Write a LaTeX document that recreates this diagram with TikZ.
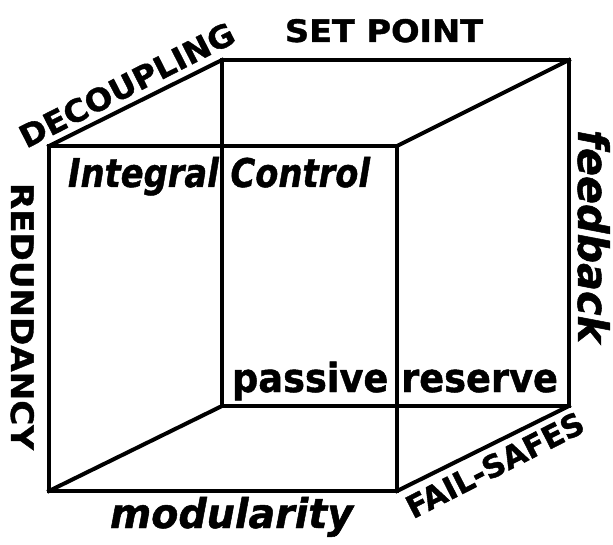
\documentclass[tikz,border=0pt]{standalone}
\usepackage{fontspec}
\setmainfont{DejaVu Sans}[
  BoldFont={DejaVu Sans Bold},
  BoldFeatures={FakeBold=1.2},
  BoldItalicFont={DejaVu Sans Bold Oblique},
  BoldItalicFeatures={FakeBold=1.2}]
\usepackage{graphicx}
\tikzset{
  edge/.style={line width=4pt, line join=miter, line cap=rect},
  lab/.style={inner sep=0pt, outer sep=0pt, font=\bfseries},
  slab/.style={inner sep=0pt, outer sep=0pt, font=\bfseries\itshape},
}
% set a label at a font size, then stretch it to a given width
\newcommand\fitto[3]{{\fontsize{#2}{#2}\selectfont\resizebox{#1}{\height}{#3}}}
\begin{document}
\begin{tikzpicture}[x=1pt,y=-1pt]
  \useasboundingbox (0,0) rectangle (613,545);
  % front face
  \coordinate (A) at (49,146);
  \coordinate (B) at (397,146);
  \coordinate (C) at (397,491);
  \coordinate (D) at (49,491);
  % back face
  \coordinate (E) at (222,60);
  \coordinate (F) at (569,60);
  \coordinate (G) at (569,406);
  \coordinate (H) at (222,406);
  % the wire cube
  \draw[edge] (A) -- (B) -- (C) -- (D) -- cycle;
  \draw[edge] (E) -- (F) -- (G) -- (H) -- cycle;
  \draw[edge] (A) -- (E);
  \draw[edge] (B) -- (F);
  \draw[edge] (C) -- (G);
  \draw[edge] (D) -- (H);
  % labels
  \node[lab, anchor=base west] (setpoint) at (285,42) {\fitto{198pt}{31pt}{SET POINT}};
  \node[lab, anchor=base, rotate=27] (decoupling) at (132,95) {\fitto{237pt}{31pt}{DECOUPLING}};
  \node[lab, anchor=base west, rotate=-90] (redundancy) at (11,183) {\fitto{267pt}{31pt}{REDUNDANCY}};
  \node[slab, anchor=base west, rotate=-90] (feedback) at (578,130) {\fitto{213pt}{42pt}{feedback}};
  \node[slab, anchor=base west] (integral) at (68,187) {\fitto{302pt}{39.5pt}{Integral Control}};
  \node[lab, anchor=base west] (passive) at (232,392) {\fitto{326pt}{40pt}{passive reserve}};
  \node[slab, anchor=base west] (modularity) at (110,528) {\fitto{243pt}{41pt}{modularity}};
  \node[lab, anchor=base, rotate=27] (failsafes) at (500,475) {\fitto{195pt}{31pt}{FAIL-SAFES}};
\end{tikzpicture}
\end{document}
